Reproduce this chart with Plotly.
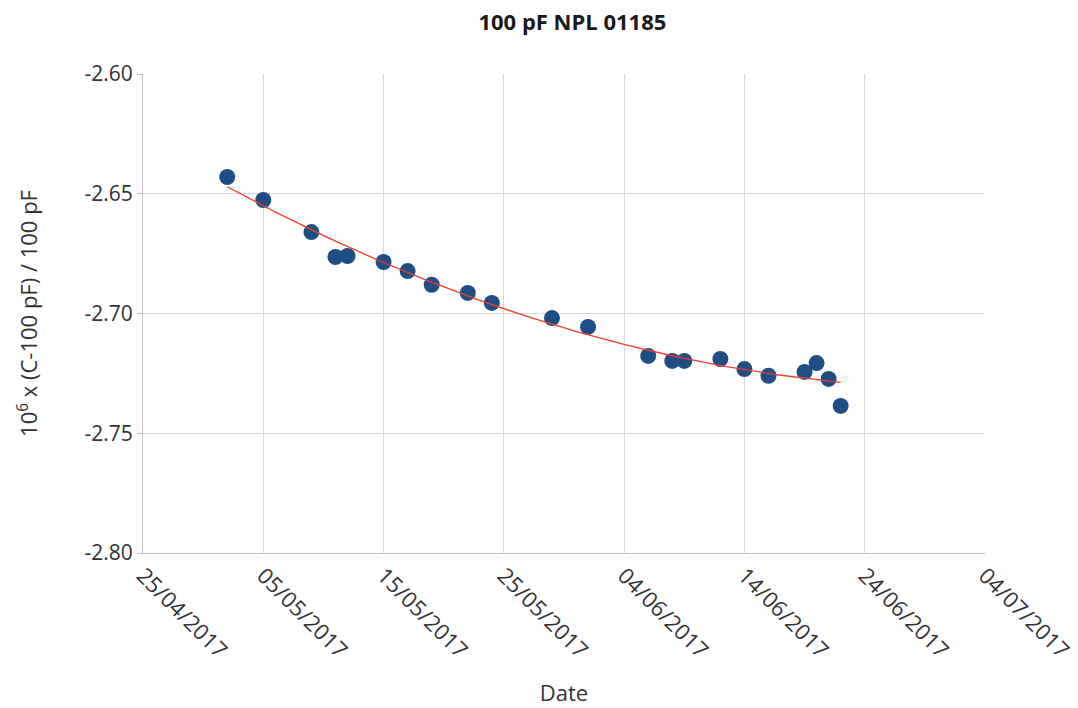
import numpy as np
import pandas as pd
import plotly.graph_objects as go

dates = ["2017-05-02", "2017-05-05", "2017-05-09", "2017-05-11", "2017-05-12",
         "2017-05-15", "2017-05-17", "2017-05-19", "2017-05-22", "2017-05-24",
         "2017-05-29", "2017-06-01", "2017-06-06", "2017-06-08", "2017-06-09",
         "2017-06-12", "2017-06-14", "2017-06-16", "2017-06-19", "2017-06-20",
         "2017-06-21", "2017-06-22"]
values = [-2.6430, -2.6526, -2.6660, -2.6764, -2.6760,
          -2.6785, -2.6823, -2.6880, -2.6914, -2.6956,
          -2.7019, -2.7056, -2.7177, -2.7198, -2.7198,
          -2.7190, -2.7232, -2.7260, -2.7244, -2.7207,
          -2.7273, -2.7386]

y_tick_vals = [-2.80, -2.75, -2.70, -2.65, -2.60]
y_tick_text = ["-2.80", "-2.75", "-2.70", "-2.65", "-2.60"]

title = "<b>100 pF NPL 01185</b>"
x_title = "Date"
y_title = "10<sup>6</sup> x (C-100 pF) / 100 pF"

d = pd.to_datetime(dates)
t = (d - d[0]).days.values.astype(float)
coef = np.polyfit(t, values, 2)
tt = np.linspace(t.min(), t.max(), 200)
trend_x = d[0] + pd.to_timedelta(tt, unit="D")
trend_y = np.polyval(coef, tt)

fig = go.Figure()
fig.add_trace(go.Scatter(x=d, y=values, mode="markers",
                         marker=dict(size=16, color="#1f4e85"),
                         showlegend=False))
fig.add_trace(go.Scatter(x=trend_x, y=trend_y, mode="lines",
                         line=dict(color="#f03c2c", width=1.3),
                         showlegend=False))

font_family = "Open Sans, Liberation Sans, sans-serif"
fig.update_layout(
    width=1078, height=708,
    margin=dict(l=143, r=93, t=74, b=155),
    paper_bgcolor="white", plot_bgcolor="white",
    title=dict(text=title, x=0.531, xanchor="center", y=0.968, yanchor="middle",
               font=dict(family=font_family, size=22, color="#1a1a1a")),
    font=dict(family=font_family, color="#333"),
)
fig.update_xaxes(
    type="date", range=["2017-04-25", "2017-07-04"], automargin=False,
    tick0="2017-04-25", dtick=10 * 86400000, tickformat="%d/%m/%Y",
    tickangle=45, tickfont=dict(size=22, color="#333"),
    showgrid=True, gridcolor="#d9d9d9", gridwidth=1,
    showline=True, linecolor="#bfbfbf", linewidth=1,
    zeroline=False, ticks="",
    title=dict(text=x_title, font=dict(size=22, color="#333"), standoff=22),
)
fig.update_yaxes(
    range=[-2.80, -2.60], automargin=False,
    tickmode="array", tickvals=y_tick_vals, ticktext=y_tick_text,
    tickfont=dict(size=21, color="#333"),
    showgrid=True, gridcolor="#d9d9d9", gridwidth=1,
    showline=True, linecolor="#bfbfbf", linewidth=1,
    zeroline=False, ticks="outside", ticklen=5, tickcolor="#bfbfbf",
    title=dict(text=y_title, font=dict(size=22, color="#333"), standoff=40),
)
fig.write_html("out.html")
